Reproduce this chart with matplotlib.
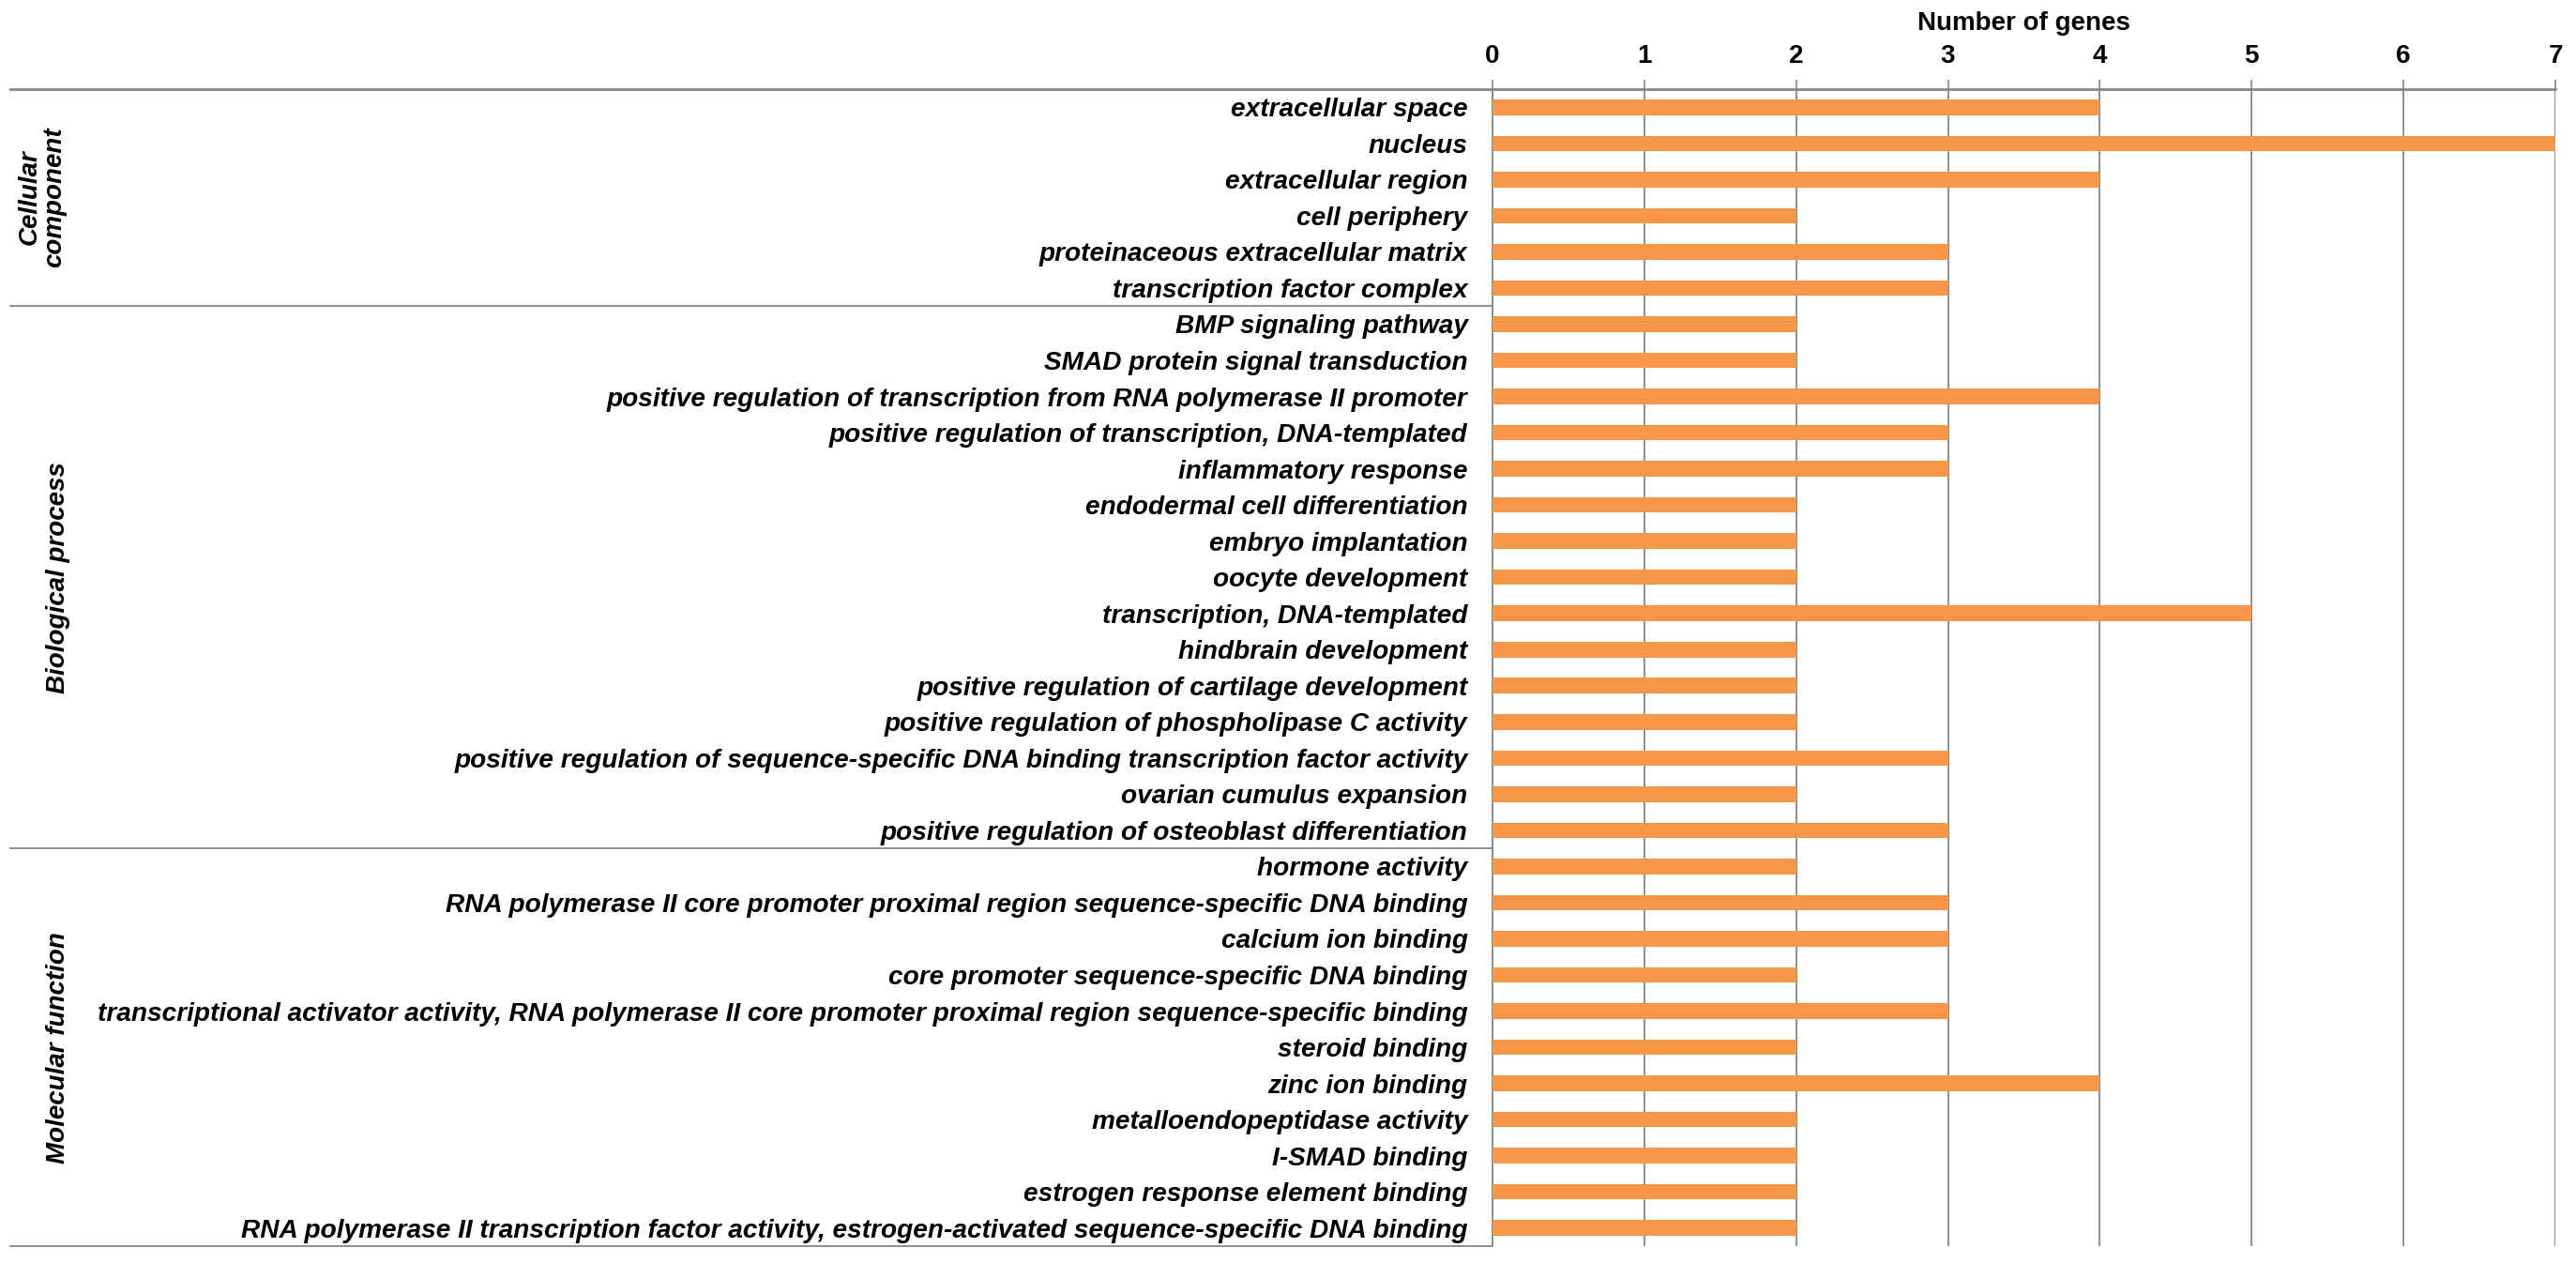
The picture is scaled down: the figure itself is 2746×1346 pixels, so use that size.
import matplotlib
matplotlib.use("Agg")
import matplotlib.pyplot as plt
from matplotlib.transforms import blended_transform_factory

plt.rcParams['font.family'] = ['Liberation Sans', 'DejaVu Sans']

cc_terms = ["extracellular space", "nucleus", "extracellular region", "cell periphery",
            "proteinaceous extracellular matrix", "transcription factor complex"]
cc_vals = [4, 7, 4, 2, 3, 3]

bp_terms = ["BMP signaling pathway", "SMAD protein signal transduction",
            "positive regulation of transcription from RNA polymerase II promoter",
            "positive regulation of transcription, DNA-templated",
            "inflammatory response", "endodermal cell differentiation",
            "embryo implantation", "oocyte development", "transcription, DNA-templated",
            "hindbrain development", "positive regulation of cartilage development",
            "positive regulation of phospholipase C activity",
            "positive regulation of sequence-specific DNA binding transcription factor activity",
            "ovarian cumulus expansion", "positive regulation of osteoblast differentiation"]
bp_vals = [2, 2, 4, 3, 3, 2, 2, 2, 5, 2, 2, 2, 3, 2, 3]

mf_terms = ["hormone activity",
            "RNA polymerase II core promoter proximal region sequence-specific DNA binding",
            "calcium ion binding", "core promoter sequence-specific DNA binding",
            "transcriptional activator activity, RNA polymerase II core promoter proximal region sequence-specific binding",
            "steroid binding", "zinc ion binding", "metalloendopeptidase activity",
            "I-SMAD binding", "estrogen response element binding",
            "RNA polymerase II transcription factor activity, estrogen-activated sequence-specific DNA binding"]
mf_vals = [2, 3, 3, 2, 3, 2, 4, 2, 2, 2, 2]

group_names = ["Cellular\ncomponent", "Biological process", "Molecular function"]
x_ticks = [0, 1, 2, 3, 4, 5, 6, 7]
x_label = "Number of genes"

terms = cc_terms + bp_terms + mf_terms
vals = cc_vals + bp_vals + mf_vals
group_sizes = [len(cc_terms), len(bp_terms), len(mf_terms)]

W, H = 2746, 1346
fig = plt.figure(figsize=(W / 100, H / 100), dpi=100)
ax_left, ax_right = 1591 / W, 2724 / W
ax_top, ax_bot = 1 - 95 / H, 1 - 1328 / H
ax = fig.add_axes([ax_left, ax_bot, ax_right - ax_left, ax_top - ax_bot])

grey = '#868686'
n = len(terms)
y = list(range(n))
ax.barh(y, vals, height=0.43, color='#F79646', zorder=3)
ax.set_ylim(n - 0.5, -0.5)
ax.set_xlim(0, 7)
ax.set_xticks(x_ticks)
ax.xaxis.tick_top()
ax.xaxis.set_label_position('top')
ax.set_xlabel(x_label, fontsize=20, fontweight='bold', labelpad=11)
ax.tick_params(axis='x', which='major', direction='out', length=7, width=1.2,
               color=grey, labelsize=20, pad=9)
for lab in ax.get_xticklabels():
    lab.set_fontweight('bold')
ax.set_yticks(y)
ax.set_yticklabels(terms, fontsize=20.2, fontweight='bold', fontstyle='italic')
ax.tick_params(axis='y', length=0, pad=19)
ax.grid(axis='x', color=grey, linewidth=1.3, zorder=0)
for s in ['right', 'bottom']:
    ax.spines[s].set_visible(False)
ax.spines['left'].set_color(grey)
ax.spines['left'].set_linewidth(1.3)
ax.spines['top'].set_visible(False)

# separator lines
trans = blended_transform_factory(fig.transFigure, ax.transData)
x0 = 11 / W
bounds = [-0.5]
acc = -0.5
for g in group_sizes:
    acc += g
    bounds.append(acc)
ax.plot([x0, ax_right], [-0.5, -0.5], transform=trans, color=grey, lw=2.0,
        clip_on=False, zorder=5)
for b in bounds[1:]:
    ax.plot([x0, ax_left], [b, b], transform=trans, color=grey, lw=1.3,
            clip_on=False, zorder=5)

# group labels
start = -0.5
for name, g in zip(group_names, group_sizes):
    center = start + g / 2
    xpos = 45 / W if "\n" in name else 62 / W
    fig.text(xpos, center, name, transform=trans, rotation=90, ha='center',
             va='center', fontsize=20, fontweight='bold', fontstyle='italic',
             linespacing=1.0)
    start += g

fig.savefig("out.png", dpi=100)
